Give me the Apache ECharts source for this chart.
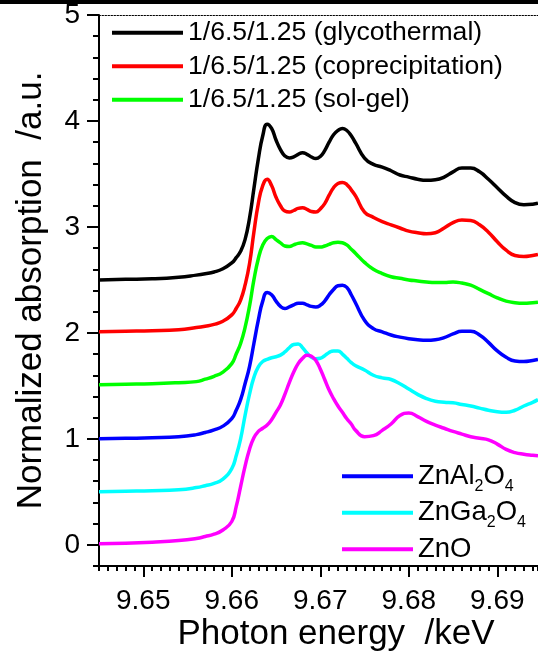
<!DOCTYPE html>
<html>
<head>
<meta charset="utf-8">
<title>XANES Zn K-edge</title>
<script src="https://cdn.jsdelivr.net/npm/echarts@6/dist/echarts.min.js"></script>
<style>
  html, body { margin: 0; padding: 0; background: #fff; }
  #chart { width: 538px; height: 656px; }
</style>
</head>
<body>
<div id="chart"></div>
<script>
// Photon energy grid (keV) shared by all spectra
const energy = [
  9.645, 9.648, 9.651, 9.654, 9.656, 9.657, 9.658, 9.659, 9.660, 9.6605,
  9.661, 9.6615, 9.662, 9.6625, 9.663, 9.6635, 9.664, 9.6645, 9.665, 9.6655,
  9.666, 9.6665, 9.667, 9.6675, 9.668, 9.6685, 9.669, 9.6695, 9.670, 9.6705,
  9.671, 9.6715, 9.672, 9.6725, 9.673, 9.6735, 9.674, 9.675, 9.676, 9.677,
  9.678, 9.679, 9.680, 9.681, 9.682, 9.683, 9.684, 9.685, 9.686, 9.687,
  9.688, 9.689, 9.690, 9.691, 9.692, 9.693, 9.694, 9.6946
];

// Normalized absorption, stacked with vertical offsets
const glycothermal = [
  2.50, 2.505, 2.51, 2.525, 2.545, 2.558, 2.575, 2.605, 2.66, 2.71,
  2.77, 2.88, 3.08, 3.36, 3.64, 3.86, 3.97, 3.93, 3.82, 3.73,
  3.67, 3.65, 3.66, 3.685, 3.70, 3.685, 3.66, 3.645, 3.665, 3.72,
  3.80, 3.87, 3.91, 3.93, 3.91, 3.86, 3.79, 3.65, 3.59, 3.565,
  3.53, 3.49, 3.47, 3.45, 3.44, 3.445, 3.47, 3.52, 3.555, 3.555,
  3.52, 3.45, 3.37, 3.29, 3.23, 3.21, 3.215, 3.225
];
const coprecipitation = [
  2.01, 2.015, 2.02, 2.03, 2.05, 2.063, 2.08, 2.11, 2.17, 2.23,
  2.31, 2.45, 2.65, 2.95, 3.22, 3.39, 3.45, 3.39, 3.28, 3.20,
  3.15, 3.14, 3.155, 3.175, 3.18, 3.165, 3.145, 3.14, 3.17, 3.22,
  3.30, 3.37, 3.41, 3.42, 3.40, 3.35, 3.29, 3.14, 3.09, 3.05,
  3.02, 2.99, 2.96, 2.945, 2.935, 2.945, 2.99, 3.04, 3.065, 3.06,
  3.02, 2.95, 2.86, 2.78, 2.73, 2.72, 2.73, 2.74
];
const solGel = [
  1.51, 1.515, 1.52, 1.53, 1.54, 1.563, 1.59, 1.63, 1.71, 1.80,
  1.90, 2.05, 2.25, 2.50, 2.70, 2.83, 2.89, 2.91, 2.88, 2.85,
  2.82, 2.815, 2.83, 2.845, 2.85, 2.84, 2.825, 2.81, 2.81, 2.82,
  2.835, 2.85, 2.855, 2.85, 2.83, 2.79, 2.75, 2.665, 2.60, 2.56,
  2.53, 2.515, 2.50, 2.49, 2.48, 2.475, 2.475, 2.48, 2.47, 2.45,
  2.41, 2.37, 2.33, 2.30, 2.285, 2.28, 2.285, 2.29
];
const znAl2O4 = [
  1.00, 1.005, 1.01, 1.02, 1.04, 1.06, 1.085, 1.12, 1.19, 1.27,
  1.37, 1.52, 1.68, 1.90, 2.12, 2.30, 2.38, 2.36, 2.30, 2.25,
  2.23, 2.245, 2.265, 2.28, 2.28, 2.265, 2.25, 2.245, 2.26, 2.30,
  2.36, 2.41, 2.445, 2.45, 2.43, 2.36, 2.28, 2.12, 2.04, 2.01,
  1.98, 1.96, 1.945, 1.935, 1.93, 1.935, 1.955, 1.99, 2.015, 2.015,
  1.98, 1.91, 1.83, 1.77, 1.735, 1.73, 1.74, 1.75
];
const znGa2O4 = [
  0.50, 0.505, 0.51, 0.52, 0.54, 0.558, 0.58, 0.62, 0.72, 0.84,
  1.00, 1.22, 1.42, 1.58, 1.68, 1.73, 1.75, 1.765, 1.775, 1.79,
  1.82, 1.86, 1.89, 1.895, 1.86, 1.81, 1.77, 1.755, 1.76, 1.785,
  1.815, 1.83, 1.83, 1.80, 1.76, 1.72, 1.69, 1.65, 1.60, 1.575,
  1.56, 1.52, 1.47, 1.42, 1.38, 1.355, 1.345, 1.34, 1.325, 1.31,
  1.29, 1.27, 1.255, 1.25, 1.27, 1.31, 1.345, 1.37
];
const znO = [
  0.01, 0.015, 0.025, 0.04, 0.06, 0.078, 0.10, 0.14, 0.22, 0.36,
  0.55, 0.74, 0.90, 1.01, 1.07, 1.10, 1.13, 1.18, 1.25, 1.32,
  1.42, 1.53, 1.63, 1.71, 1.76, 1.79, 1.78, 1.74, 1.66, 1.56,
  1.46, 1.38, 1.31, 1.25, 1.19, 1.14, 1.08, 1.02, 1.03, 1.08,
  1.14, 1.22, 1.245, 1.21, 1.165, 1.13, 1.10, 1.07, 1.045, 1.02,
  1.005, 0.99, 0.95, 0.90, 0.87, 0.855, 0.845, 0.84
];

// Series names and colours
const seriesNames = [
  '1/6.5/1.25 (glycothermal)',
  '1/6.5/1.25 (coprecipitation)',
  '1/6.5/1.25 (sol-gel)',
  'ZnAl2O4',
  'ZnGa2O4',
  'ZnO'
];
const seriesColors = ['#000000', '#ff0000', '#00ff00', '#0000ff', '#00ffff', '#ff00ff'];
const seriesValues = [glycothermal, coprecipitation, solGel, znAl2O4, znGa2O4, znO];

// Tick labels
const xTickLabels = [9.65, 9.66, 9.67, 9.68, 9.69];
const yTickLabels = [0, 1, 2, 3, 4, 5];

const FONT = "'Liberation Sans', Arial, sans-serif";
const xMin = 9.645, xMax = 9.6946, yMin = -0.2, yMax = 5;

const chart = echarts.init(document.getElementById('chart'), null, { renderer: 'canvas' });

const series = seriesValues.map((vals, i) => ({
  name: seriesNames[i],
  type: 'line',
  xAxisIndex: 0,
  yAxisIndex: 0,
  data: vals.map((v, j) => [energy[j], v]),
  showSymbol: false,
  smooth: 0.5,
  color: seriesColors[i],
  lineStyle: { width: 3.5, color: seriesColors[i] },
  emphasis: { disabled: true },
  z: 2 + i
}));

chart.setOption({
  animation: false,
  backgroundColor: '#ffffff',
  title: {
    text: 'Photon energy  /keV',
    left: 336,
    top: 617,
    textAlign: 'center',
    padding: 0,
    textStyle: { fontFamily: FONT, fontSize: 35, fontWeight: 'normal', color: '#000' }
  },
  grid: { left: 99, right: 0, top: 15, bottom: 90, containLabel: false },
  legend: [
    {
      data: seriesNames.slice(0, 3),
      orient: 'vertical',
      left: 112,
      top: 16,
      padding: 0,
      itemGap: 0,
      icon: 'rect',
      itemWidth: 71,
      itemHeight: 4,
      selectedMode: false,
      textStyle: { fontFamily: FONT, fontSize: 26.6, lineHeight: 33.5, color: '#000' }
    },
    {
      data: seriesNames.slice(3),
      orient: 'vertical',
      left: 342,
      top: 458,
      padding: 0,
      itemGap: 0,
      icon: 'rect',
      itemWidth: 71,
      itemHeight: 4,
      selectedMode: false,
      formatter: name => name.replace(/(\d)/g, '{s|$1}'),
      textStyle: {
        fontFamily: FONT, fontSize: 27.5, lineHeight: 36.5, color: '#000',
        rich: {
          s: { fontFamily: FONT, fontSize: 16, lineHeight: 14, verticalAlign: 'bottom', color: '#000' }
        }
      }
    }
  ],
  xAxis: [
    {
      type: 'value', position: 'bottom', min: xMin, max: xMax, interval: 0.001,
      axisLine: { show: true, onZero: false, lineStyle: { color: '#000', width: 2 } },
      axisTick: { show: true, length: 5, lineStyle: { color: '#000', width: 2 } },
      axisLabel: {
        show: true, customValues: xTickLabels, margin: 21,
        formatter: v => v.toFixed(2),
        fontFamily: FONT, fontSize: 28, color: '#000'
      },
      splitLine: { show: false }
    },
    {
      type: 'value', position: 'bottom', min: xMin, max: xMax,
      axisLine: { show: false, onZero: false },
      axisTick: { show: true, customValues: xTickLabels, length: 11, lineStyle: { color: '#000', width: 2 } },
      axisLabel: { show: false },
      splitLine: { show: false }
    },
    {
      type: 'value', position: 'top', min: xMin, max: xMax,
      axisLine: { show: true, onZero: false, lineStyle: { color: '#000', width: 1, type: [1.5, 1.5] } },
      axisTick: { show: false },
      axisLabel: { show: false },
      splitLine: { show: false }
    }
  ],
  yAxis: [
    {
      type: 'value', position: 'left', min: yMin, max: yMax, interval: 0.2,
      name: 'Normalized absorption  /a.u.',
      nameLocation: 'middle',
      nameRotate: 90,
      nameGap: 50,
      nameTextStyle: { fontFamily: FONT, fontSize: 35, color: '#000' },
      axisLine: { show: true, onZero: false, lineStyle: { color: '#000', width: 2 } },
      axisTick: { show: true, length: 6, lineStyle: { color: '#000', width: 2 } },
      axisLabel: {
        show: true, customValues: yTickLabels, margin: 19,
        formatter: v => String(Math.round(v)),
        fontFamily: FONT, fontSize: 28, color: '#000'
      },
      splitLine: { show: false }
    },
    {
      type: 'value', position: 'left', min: yMin, max: yMax,
      axisLine: { show: false, onZero: false },
      axisTick: { show: true, customValues: yTickLabels, length: 12, lineStyle: { color: '#000', width: 2 } },
      axisLabel: { show: false },
      splitLine: { show: false }
    }
  ],
  graphic: [
    {
      type: 'rect',
      left: 0, top: 0,
      shape: { width: 538, height: 4 },
      style: { fill: '#000' },
      silent: true
    }
  ],
  series: series
});
</script>
</body>
</html>
